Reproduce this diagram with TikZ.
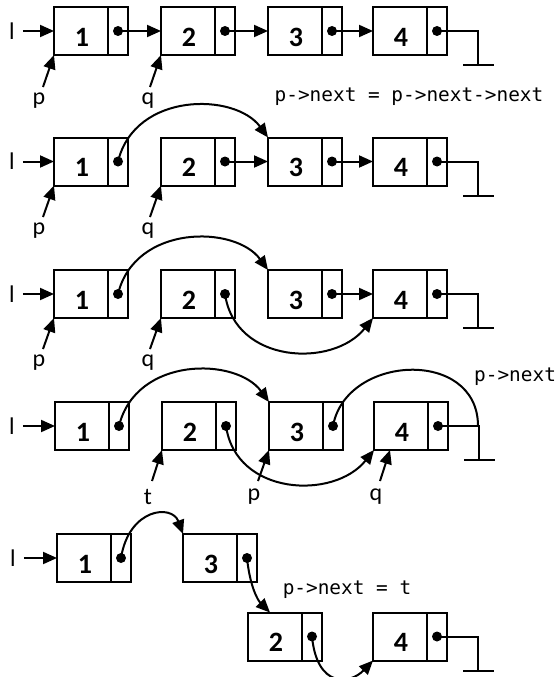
\documentclass[tikz,border=0pt]{standalone}
\usepackage{fontspec}
\setmainfont{Carlito}
\newfontfamily\monof{DejaVu Sans Mono}
\usetikzlibrary{arrows.meta,calc}
\tikzset{
  datab/.style={draw,line width=2pt,minimum width=54pt,minimum height=48pt,inner sep=0pt,outer sep=0pt},
  ptrb/.style={draw,line width=2pt,minimum width=20pt,minimum height=48pt,inner sep=0pt,outer sep=0pt},
  digit/.style={font=\fontsize{28}{28}\selectfont\bfseries,inner sep=0pt},
  lbl/.style={font=\fontsize{24}{24}\selectfont,inner sep=0pt},
  code/.style={font=\monof\fontsize{19.4}{20}\selectfont,inner sep=0pt},
  arr/.style={line width=2pt,-{Triangle[length=14pt,width=12pt]}},
  gline/.style={line width=2pt},
}
\newcommand\cellpair[4]{%
  \node[datab,anchor=west] (#1) at (#2,#3) {};
  \node[digit] (#1n) at ([xshift=1pt,yshift=-6pt]#1.center) {#4};
  \node[ptrb,anchor=west] (#1p) at (#1.east) {};
  \fill (#1p.center) circle[radius=5pt];
}
\newcommand\grnd[1]{%
  \draw[gline] (#1p.center) -| ([xshift=41pt,yshift=-34pt]#1p.center);
  \draw[gline] ([xshift=26pt,yshift=-34pt]#1p.center) -- ([xshift=57pt,yshift=-34pt]#1p.center);
}
\begin{document}
\begin{tikzpicture}[x=1pt,y=-1pt]
\useasboundingbox (0,0) rectangle (558,677);
% ---------- row 1
\cellpair{a1}{54}{31}{1}
\cellpair{a2}{161}{31}{2}
\cellpair{a3}{268}{31}{3}
\cellpair{a4}{373}{31}{4}
\node[lbl] (la) at (12,31) {l};
\draw[arr,shorten <=8pt] (la.east) -- (a1.west);
\draw[arr] (a1p.center) -- (a2.west);
\draw[arr] (a2p.center) -- (a3.west);
\draw[arr] (a3p.center) -- (a4.west);
\grnd{a4}
\node[lbl] (pa) at (39,101) {p};
\node[lbl] (qa) at (148,101) {q};
\coordinate (pat) at (43,87);
\coordinate (qat) at (150,87);
\draw[arr] (pat) -- (a1.south west);
\draw[arr] (qat) -- (a2.south west);
\node[code] (ca) at (409,97) {p->next = p->next->next};
% ---------- row 2
\cellpair{b1}{54}{161.5}{1}
\cellpair{b2}{161}{161.5}{2}
\cellpair{b3}{268}{161.5}{3}
\cellpair{b4}{373}{161.5}{4}
\node[lbl] (lb) at (12,161.5) {l};
\draw[arr,shorten <=8pt] (lb.east) -- (b1.west);
\draw[arr] (b1p.center) .. controls +(17,-70) and +(-33,-45) .. (b3.north west);
\draw[arr] (b2p.center) -- (b3.west);
\draw[arr] (b3p.center) -- (b4.west);
\grnd{b4}
\node[lbl] (pb) at (39,231) {p};
\node[lbl] (qb) at (148,231) {q};
\coordinate (pbt) at (43,217);
\coordinate (qbt) at (150,217);
\draw[arr] (pbt) -- (b1.south west);
\draw[arr] (qbt) -- (b2.south west);
% ---------- row 3
\cellpair{c1}{54}{294}{1}
\cellpair{c2}{161}{294}{2}
\cellpair{c3}{268}{294}{3}
\cellpair{c4}{373}{294}{4}
\node[lbl] (lc) at (12,294) {l};
\draw[arr,shorten <=8pt] (lc.east) -- (c1.west);
\draw[arr] (c1p.center) .. controls +(17,-70) and +(-33,-45) .. (c3.north west);
\draw[arr] (c2p.center) .. controls +(10,70) and +(-40,50) .. (c4.south west);
\draw[arr] (c3p.center) -- (c4.west);
\grnd{c4}
\node[lbl] (pc) at (39,363) {p};
\node[lbl] (qc) at (148,363) {q};
\coordinate (pct) at (43,349);
\coordinate (qct) at (150,349);
\draw[arr] (pct) -- (c1.south west);
\draw[arr] (qct) -- (c2.south west);
% ---------- row 4
\cellpair{d1}{55}{426}{1}
\cellpair{d2}{162}{426}{2}
\cellpair{d3}{269}{426}{3}
\cellpair{d4}{374}{426}{4}
\node[lbl] (ld) at (12,426) {l};
\draw[arr,shorten <=8pt] (ld.east) -- (d1.west);
\draw[arr] (d1p.center) .. controls +(17,-70) and +(-33,-45) .. (d3.north west);
\draw[arr] (d2p.center) .. controls +(10,70) and +(-40,50) .. (d4.south west);
\coordinate (dg) at (478,426);
\draw[gline] (d3p.center) .. controls +(13,-72) and +(0,-78) .. (dg);
\grnd{d4}
\node[lbl] (td) at (148,497) {t};
\node[lbl] (pd) at (254,497) {p};
\node[lbl] (qd) at (376,497) {q};
\coordinate (tdt) at (152,481);
\coordinate (pdt) at (258,481);
\coordinate (qdt) at (380,481);
\draw[arr] (tdt) -- (d2.south west);
\draw[arr] (pdt) -- (d3.south west);
\draw[arr] (qdt) -- ([xshift=16pt]d4.south west);
\node[code,anchor=west] (cd) at (474,377) {p->next};
% ---------- row 5
\cellpair{e1}{57}{558}{1}
\cellpair{e3}{183}{558}{3}
\cellpair{e2}{248}{636.5}{2}
\cellpair{e4}{373}{636.5}{4}
\node[lbl] (le) at (13,558) {l};
\draw[arr,shorten <=8pt] (le.east) -- (e1.west);
\draw[arr] (e1p.center) .. controls +(8,-50) and +(-11,-30) .. (e3.north west);
\draw[arr] (e3p.center) .. controls +(3,29) and +(-12,-12) .. ([xshift=22pt]e2.north west);
\draw[arr] (e2p.center) .. controls +(5,52) and +(-23,24) .. (e4.south west);
\grnd{e4}
\node[code] (ce) at (347,590) {p->next = t};
\end{tikzpicture}
\end{document}
